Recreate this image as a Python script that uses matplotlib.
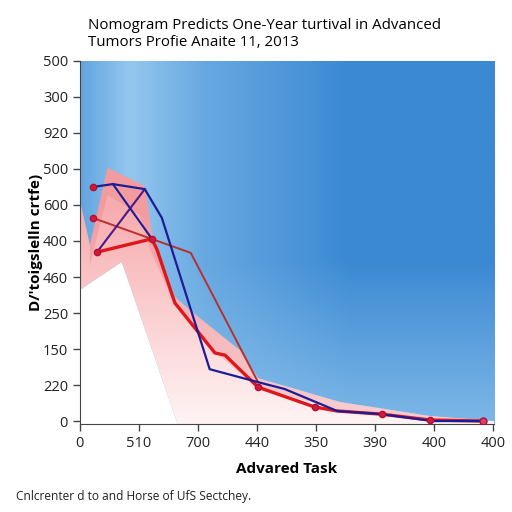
import numpy as np
import matplotlib
matplotlib.use('Agg')
import matplotlib.pyplot as plt
from matplotlib.colors import to_rgb

plt.rcParams['font.family'] = ['Open Sans', 'DejaVu Sans']

title = 'Nomogram Predicts One-Year turtival in Advanced\nTumors Profie Anaite 11, 2013'
xlabel = 'Advared Task'
ylabel = "D/'toigslelln crtfe)"
footer = 'Cnlcrenter d to and Horse of UfS Sectchey.'

xticklabels = ['0', '510', '700', '440', '350', '390', '400', '400']
yticklabels = ['0', '220', '150', '250', '460', '400', '600', '500', '920', '300', '500']

# navy series
blue_x = [0.22, 0.56, 1.10, 1.39, 2.20, 3.02, 3.47, 4.36, 5.12, 5.98, 6.83]
blue_y = [6.50, 6.58, 6.44, 5.64, 1.44, 1.08, 0.89, 0.28, 0.19, 0.0, 0.0]
# second navy / purple strokes
navy2_x = [0.56, 1.22]
navy2_y = [6.58, 5.06]
purple_x = [0.29, 1.10]
purple_y = [4.69, 6.44]
# thick red series
red_x = [0.29, 1.22, 1.31, 1.61, 2.29, 2.46, 3.02, 3.98, 4.36, 5.12, 5.93, 6.83]
red_y = [4.69, 5.06, 4.75, 3.28, 1.89, 1.83, 0.94, 0.39, 0.28, 0.19, 0.03, 0.0]
# thin dark red series
dred_x = [0.22, 1.88, 3.02]
dred_y = [5.64, 4.67, 1.08]
# marker points
mark_x = [0.22, 0.22, 0.29, 1.22, 3.02, 3.98, 5.12, 5.93]
mark_y = [6.50, 5.64, 4.69, 5.06, 0.94, 0.39, 0.19, 0.03]

# shaded band
band_top_x = [0.0, 0.17, 0.47, 1.10, 1.22, 1.61, 2.03, 2.71, 3.02, 4.41, 5.93, 7.02]
band_top_y = [6.14, 4.89, 7.03, 6.53, 5.25, 3.44, 2.86, 1.97, 1.19, 0.53, 0.14, 0.0]
band_mid_x = [0.17, 0.47, 1.02, 1.19, 1.61, 2.29, 3.02, 4.41, 5.93, 7.02]
band_mid_y = [4.33, 6.28, 5.72, 4.75, 3.22, 1.92, 0.92, 0.31, 0.06, 0.0]
band_low_x = [0.0, 0.17, 0.71, 1.66, 7.02]
band_low_y = [3.64, 3.83, 4.42, -0.1, -0.1]

fig = plt.figure(figsize=(5.12, 5.12), dpi=100)
ax = fig.add_axes([0.156, 0.172, 0.809, 0.709])
ax.set_xlim(0, 7.02)
ax.set_ylim(-0.08, 10)

# blue background gradient
nx, ny = 300, 200
gx = np.linspace(0, 1, nx)
gy = np.linspace(0, 1, ny)[:, None]
light = np.array(to_rgb('#94c7ee'))
dark = np.array(to_rgb('#3b89d3'))
h = np.interp(gx, [0, 0.12, 0.3, 0.65, 1], [0.55, 0.0, 0.5, 1.0, 1.0])
v = np.clip((0.45 - gy) / 0.45, 0, 1) * 0.75
t = h[None, :] * (1 - v)
img = light[None, None, :] * (1 - t[..., None]) + dark[None, None, :] * t[..., None]
ax.imshow(img, extent=[0, 7.02, -0.08, 10], origin='lower', aspect='auto', zorder=0)

# white wedge
wx = band_low_x[:-1] + [0.0]
wy = band_low_y[:-1] + [-0.1]
ax.fill(wx, wy, color='white', lw=0, zorder=1)

# pink gradient under the curve
px = band_top_x + band_low_x[::-1]
py = band_top_y + band_low_y[::-1]
poly = ax.fill(px, py, facecolor='none', lw=0, zorder=1)[0]
pink = np.array(to_rgb('#f7adb0'))
white = np.array(to_rgb('#fff4f4'))
s = np.clip(gy * 1.7, 0, 1)
pimg = white[None, None, :] * (1 - s[..., None]) + pink[None, None, :] * s[..., None]
pimg = np.repeat(pimg, nx, axis=1)
pim = ax.imshow(pimg, extent=[0, 7.02, -0.08, 10], origin='lower', aspect='auto', zorder=1)
pim.set_clip_path(poly)

# darker pink ribbon
rx = band_top_x[1:] + band_mid_x[::-1]
ry = band_top_y[1:] + band_mid_y[::-1]
ax.fill(rx, ry, color='#e87078', alpha=0.28, lw=0, zorder=2)

ax.plot(dred_x, dred_y, color='#b8302f', lw=1.4, zorder=3)
ax.plot(purple_x, purple_y, color='#4a1a8a', lw=1.5, zorder=3)
ax.plot(navy2_x, navy2_y, color='#1c1c96', lw=1.5, zorder=3)
ax.plot(red_x, red_y, color='#e0161c', lw=2.4, zorder=4)
ax.plot(blue_x, blue_y, color='#1c1c96', lw=1.6, zorder=5)
ax.plot(mark_x, mark_y, 'o', color='#d8183a', ms=4.5, mec='#b01030', zorder=6)
ax.plot([6.83], [0.0], 'o', color='#e04060', ms=5, mec='#a01040', zorder=6)

ax.set_xticks(range(len(xticklabels)))
ax.set_xticklabels(xticklabels, fontsize=10.5, color='#222222')
ax.set_yticks(range(len(yticklabels)))
ax.set_yticklabels(yticklabels, fontsize=10.5, color='#222222')
ax.tick_params(length=5, color='#444444', width=1)
for side in ['top', 'right']:
    ax.spines[side].set_visible(False)
for side in ['left', 'bottom']:
    ax.spines[side].set_color('#444444')

ax.set_xlabel(xlabel, fontsize=11, fontweight='bold', labelpad=8)
ax.set_ylabel(ylabel, fontsize=11, fontweight='bold', labelpad=0)

fig.text(0.172, 0.965, title, fontsize=10.8, va='top', ha='left', linespacing=1.15)
fig.text(0.031, 0.03, footer, fontsize=8.6, ha='left', va='center', color='#222222')

fig.savefig('out.png', dpi=100)
